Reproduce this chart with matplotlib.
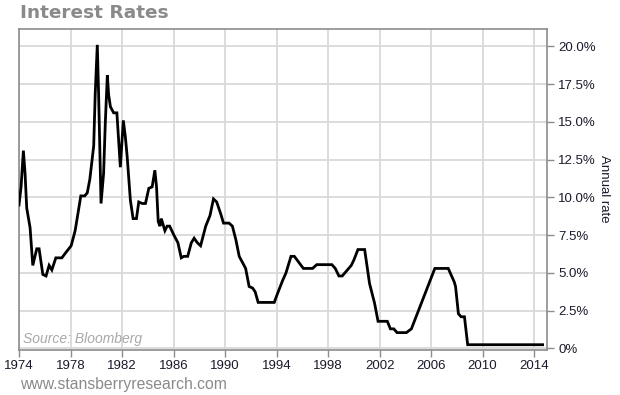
import matplotlib
matplotlib.use("Agg")
import matplotlib.pyplot as plt
from matplotlib.ticker import FixedLocator

years = [1974.0, 1974.16, 1974.34, 1974.47, 1974.6, 1974.86, 1975.07, 1975.38, 1975.56, 1975.85,
         1976.1, 1976.34, 1976.55, 1976.86, 1977.33, 1977.59, 1978.05, 1978.36, 1978.8, 1979.1,
         1979.3, 1979.5, 1979.8, 1979.92, 1980.08, 1980.18, 1980.37, 1980.57, 1980.7, 1980.86,
         1980.96, 1981.1, 1981.35, 1981.6, 1981.87, 1982.1, 1982.26, 1982.4, 1982.65, 1982.86,
         1983.12, 1983.3, 1983.56, 1983.82, 1984.08, 1984.34, 1984.55, 1984.68, 1984.81, 1984.95,
         1985.05, 1985.33, 1985.5, 1985.7, 1986.03, 1986.34, 1986.6, 1986.8, 1987.1, 1987.38,
         1987.6, 1987.85, 1988.1, 1988.5, 1988.83, 1989.1, 1989.35, 1989.67, 1989.88, 1990.31,
         1990.57, 1990.84, 1991.1, 1991.35, 1991.6, 1991.87, 1992.14, 1992.34, 1992.57, 1993.82,
         1994.08, 1994.47, 1994.73, 1995.12, 1995.38, 1996.08, 1996.8, 1997.12, 1998.3, 1998.56,
         1998.84, 1999.1, 1999.8, 2000.0, 2000.32, 2000.84, 2001.22, 2001.61, 2001.88, 2002.6,
         2002.84, 2003.1, 2003.36, 2004.08, 2004.47, 2006.29, 2007.33, 2007.8, 2007.9, 2008.12,
         2008.33, 2008.59, 2008.84, 2014.66]
rates = [9.5, 10.7, 13.1, 11.6, 9.3, 8.0, 5.5, 6.6, 6.6, 4.9,
         4.8, 5.5, 5.2, 6.0, 6.0, 6.3, 6.8, 7.8, 10.1, 10.1,
         10.3, 11.2, 13.4, 16.9, 20.1, 16.9, 9.6, 11.6, 14.9, 18.1,
         16.8, 16.0, 15.6, 15.6, 12.0, 15.1, 14.0, 12.7, 9.8, 8.6,
         8.6, 9.7, 9.6, 9.6, 10.6, 10.7, 11.8, 10.7, 8.4, 8.1,
         8.6, 7.8, 8.1, 8.1, 7.5, 7.0, 6.0, 6.1, 6.1, 7.0,
         7.3, 7.0, 6.8, 8.1, 8.8, 9.9, 9.7, 8.9, 8.3, 8.3,
         8.1, 7.2, 6.1, 5.7, 5.3, 4.1, 4.0, 3.75, 3.05, 3.05,
         3.65, 4.5, 5.0, 6.1, 6.1, 5.3, 5.3, 5.55, 5.55, 5.3,
         4.8, 4.8, 5.5, 5.85, 6.55, 6.55, 4.3, 3.0, 1.8, 1.8,
         1.3, 1.3, 1.05, 1.05, 1.3, 5.3, 5.3, 4.4, 4.1, 2.3,
         2.1, 2.1, 0.25, 0.25]

x_ticks = [1974, 1978, 1982, 1986, 1990, 1994, 1998, 2002, 2006, 2010, 2014]
y_ticks = [0, 2.5, 5.0, 7.5, 10.0, 12.5, 15.0, 17.5, 20.0]
y_tick_labels = ["0%", "2.5%", "5.0%", "7.5%", "10.0%", "12.5%", "15.0%", "17.5%", "20.0%"]

plt.rcParams['font.family'] = ['Liberation Sans', 'DejaVu Sans']

fig = plt.figure(figsize=(6.2, 3.95), dpi=100)
ax = fig.add_axes([19/620, 1 - 350/395, (547 - 19)/620, (350 - 29)/395])

ax.plot(years, rates, color='black', lw=2.0, solid_joinstyle='miter', zorder=3)

ax.set_xlim(1974, 2015.0)
ax.set_ylim(-0.1, 21.15)
ax.xaxis.set_major_locator(FixedLocator(x_ticks))
ax.set_xticklabels([str(t) for t in x_ticks])
ax.yaxis.set_major_locator(FixedLocator(y_ticks))
ax.set_yticklabels(y_tick_labels)
ax.yaxis.tick_right()
ax.grid(True, color='#d9d9d9', lw=1.3, zorder=0)
ax.set_axisbelow(True)

for s in ax.spines.values():
    s.set_color('#8c8c8c')
    s.set_linewidth(1.2)

ax.tick_params(axis='both', colors='#8c8c8c', labelcolor='#1a1a2a', labelsize=9.5,
               length=5, width=1)
ax.tick_params(axis='y', pad=3)
ax.tick_params(axis='x', pad=2)

fig.text(604/620, 1 - 189/395, "Annual rate", rotation=-90, ha='center', va='center',
         fontsize=9.5, color='#1a1a2a')

fig.text(20/620, 1 - 13/395, "Interest Rates", fontsize=13.3, fontweight='bold',
         color='#8a8a8a', family='DejaVu Sans', ha='left', va='center')

ax.text(0.008, 0.012, "Source: Bloomberg", transform=ax.transAxes, fontsize=10,
        style='italic', color='#a8a8a8', ha='left', va='bottom')

fig.text(20/620, 1 - 385/395, "www.stansberryresearch.com", fontsize=11.3,
         color='#8a8a8a', ha='left', va='center')

fig.savefig("out.png", dpi=100)
